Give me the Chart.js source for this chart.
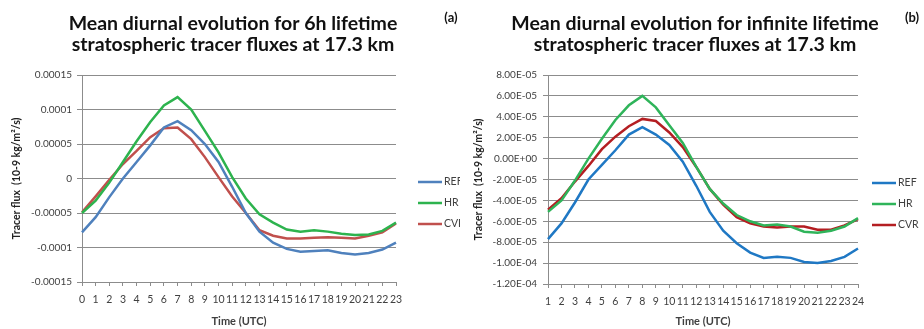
<!DOCTYPE html>
<html>
<head>
<meta charset="utf-8">
<script src="https://cdn.jsdelivr.net/npm/chart.js@4"></script>
<style>
body { margin: 0; background: #fff; }
#wrap { position: relative; width: 924px; height: 329px; overflow: hidden; }
canvas { position: absolute; top: 0; }
</style>
</head>
<body>
<div id="wrap">
  <canvas id="graficoA" width="460" height="329" style="left:0"></canvas>
  <canvas id="graficoB" width="464" height="329" style="left:460px"></canvas>
</div>
<script>
const seriesNames = ['REF', 'HR', 'CVR'];

// (a) 6h lifetime, hours 0..23
const hoursA = ['0','1','2','3','4','5','6','7','8','9','10','11','12','13','14','15','16','17','18','19','20','21','22','23'];
const refA = [-7.8e-5, -5.6e-5, -2.7e-5, 0, 2.4e-5, 4.8e-5, 7.4e-5, 8.3e-5, 7.0e-5, 5.0e-5, 2.4e-5, -1.2e-5,
              -5.0e-5, -7.7e-5, -9.3e-5, -1.02e-4, -1.06e-4, -1.05e-4, -1.04e-4, -1.08e-4, -1.10e-4, -1.08e-4, -1.03e-4, -9.3e-5];
const hrA = [-5.0e-5, -3.2e-5, -0.6e-5, 2.4e-5, 5.4e-5, 8.2e-5, 1.06e-4, 1.18e-4, 1.0e-4, 6.9e-5, 3.8e-5, 0.2e-5,
             -2.9e-5, -5.2e-5, -6.4e-5, -7.4e-5, -7.7e-5, -7.5e-5, -7.7e-5, -8.0e-5, -8.2e-5, -8.1e-5, -7.6e-5, -6.4e-5];
const cvrA = [-4.9e-5, -2.6e-5, -0.2e-5, 2.1e-5, 4.0e-5, 6.0e-5, 7.3e-5, 7.4e-5, 5.7e-5, 3.1e-5, 0.2e-5, -2.6e-5,
              -5.0e-5, -7.5e-5, -8.3e-5, -8.7e-5, -8.7e-5, -8.6e-5, -8.5e-5, -8.6e-5, -8.7e-5, -8.3e-5, -7.8e-5, -6.5e-5];

// (b) infinite lifetime, hours 1..24
const hoursB = ['1','2','3','4','5','6','7','8','9','10','11','12','13','14','15','16','17','18','19','20','21','22','23','24'];
const refB = [-7.7e-5, -6.2e-5, -4.2e-5, -2.0e-5, -0.6e-5, 0.8e-5, 2.3e-5, 3.0e-5, 2.3e-5, 1.3e-5, -0.3e-5, -2.6e-5,
              -5.1e-5, -6.9e-5, -8.1e-5, -9.0e-5, -9.5e-5, -9.4e-5, -9.5e-5, -9.9e-5, -1.0e-4, -9.8e-5, -9.4e-5, -8.6e-5];
const hrB = [-5.1e-5, -4.0e-5, -2.1e-5, 0, 1.9e-5, 3.7e-5, 5.1e-5, 6.0e-5, 4.9e-5, 3.2e-5, 1.5e-5, -0.8e-5,
             -2.9e-5, -4.3e-5, -5.4e-5, -6.0e-5, -6.4e-5, -6.3e-5, -6.5e-5, -7.0e-5, -7.1e-5, -6.9e-5, -6.5e-5, -5.7e-5];
const cvrB = [-4.9e-5, -3.8e-5, -2.2e-5, -0.7e-5, 0.9e-5, 2.1e-5, 3.1e-5, 3.8e-5, 3.6e-5, 2.5e-5, 1.1e-5, -0.8e-5,
              -2.9e-5, -4.4e-5, -5.6e-5, -6.2e-5, -6.5e-5, -6.6e-5, -6.5e-5, -6.5e-5, -6.8e-5, -6.8e-5, -6.4e-5, -5.8e-5];

const gris = '#8c8c8c';
const textoGris = '#404040';

const formatoDecimal = v => String(parseFloat(v.toPrecision(6)));
const formatoExcel = v => {
    const [m, e] = v.toExponential(2).split('e');
    const n = Math.abs(parseInt(e, 10));
    return m.toUpperCase() + 'E' + (e[0] === '-' ? '-' : '+') + String(n).padStart(2, '0');
};

const decor = {
    id: 'decor',
    afterDraw(chart, args, o) {
        const ctx = chart.ctx;
        ctx.save();
        ctx.fillStyle = '#111';
        ctx.textAlign = 'center';
        ctx.textBaseline = 'alphabetic';
        ctx.font = 'bold 19.5px Lato';
        o.title.forEach((t, i) => ctx.fillText(t, o.titleX, 30 + i * 21));
        ctx.font = 'bold 13px Lato';
        ctx.fillText(o.tag, o.tagX, 22);
        chart.data.datasets.forEach((ds, i) => {
            const y = o.legendY + i * 21;
            ctx.strokeStyle = ds.borderColor;
            ctx.lineWidth = 2.5;
            ctx.beginPath();
            ctx.moveTo(o.legendX, y);
            ctx.lineTo(o.legendX + 24, y);
            ctx.stroke();
            ctx.fillStyle = textoGris;
            ctx.font = '10.5px Lato';
            ctx.textAlign = 'left';
            ctx.textBaseline = 'middle';
            ctx.fillText(ds.label, o.legendX + 26, y);
        });
        ctx.restore();
    }
};

function crearGrafico(id, etiquetas, series, colores, ejeY, marco) {
    const config = {
        type: 'line',
        data: {
            labels: etiquetas,
            datasets: series.map((d, i) => ({
                label: seriesNames[i],
                data: d,
                borderColor: colores[i],
                borderWidth: 2.5,
                pointRadius: 0,
                tension: 0,
                fill: false
            }))
        },
        options: {
            responsive: false,
            animation: false,
            layout: { padding: { top: marco.top, right: marco.right, left: 0, bottom: 0 } },
            plugins: {
                legend: { display: false },
                tooltip: { enabled: false },
                decor: marco.decor
            },
            scales: {
                x: {
                    afterFit: s => { s.height = marco.xHeight; },
                    grid: { display: true, drawOnChartArea: false, drawTicks: true, tickLength: 4, color: gris },
                    border: { display: true, color: gris, width: 1 },
                    ticks: { autoSkip: false, maxRotation: 0, minRotation: 0, padding: 7, color: textoGris,
                             font: { family: 'Lato', size: 10.5 } },
                    title: { display: true, text: 'Time (UTC)', color: textoGris,
                             font: { family: 'Lato', size: 11, weight: 'bold' }, padding: { top: 0, bottom: 1 } }
                },
                y: {
                    min: ejeY.min,
                    max: ejeY.max,
                    afterFit: s => { s.width = marco.yWidth; },
                    grid: { color: gris, tickLength: 5, lineWidth: 1 },
                    border: { display: true, color: gris, width: 1 },
                    ticks: { stepSize: ejeY.step, callback: ejeY.format, padding: marco.yPad, color: textoGris,
                             font: { family: 'Lato', size: 10 } },
                    title: { display: true, text: 'Tracer flux  (10-9 kg/m²/s)', color: '#222',
                             font: { family: 'Lato', size: 10.5, weight: 'bold' }, padding: { top: marco.yTitlePad, bottom: 0 } }
                }
            }
        },
        plugins: [decor]
    };
    return new Chart(document.getElementById(id), config);
}

crearGrafico('graficoA', hoursA, [refA, hrA, cvrA], ['#4f81bd', '#2db34e', '#c0504d'],
    { min: -0.00015, max: 0.00015, step: 0.00005, format: formatoDecimal },
    { top: 75, right: 64, xHeight: 47, yWidth: 82, yPad: 5, yTitlePad: 10,
      decor: { title: ['Mean diurnal evolution for 6h lifetime', 'stratospheric tracer fluxes at 17.3 km'],
               titleX: 233, tag: '(a)', tagX: 451, legendX: 418, legendY: 182 } });

crearGrafico('graficoB', hoursB, [refB, hrB, cvrB], ['#1f78c4', '#2fb45a', '#b41e22'],
    { min: -1.2e-4, max: 8e-5, step: 2e-5, format: formatoExcel },
    { top: 75, right: 66, xHeight: 45, yWidth: 88, yPad: 6, yTitlePad: 12,
      decor: { title: ['Mean diurnal evolution for infinite lifetime', 'stratospheric tracer fluxes at 17.3 km'],
               titleX: 235, tag: '(b)', tagX: 452, legendX: 412, legendY: 183 } });
</script>
</body>
</html>
